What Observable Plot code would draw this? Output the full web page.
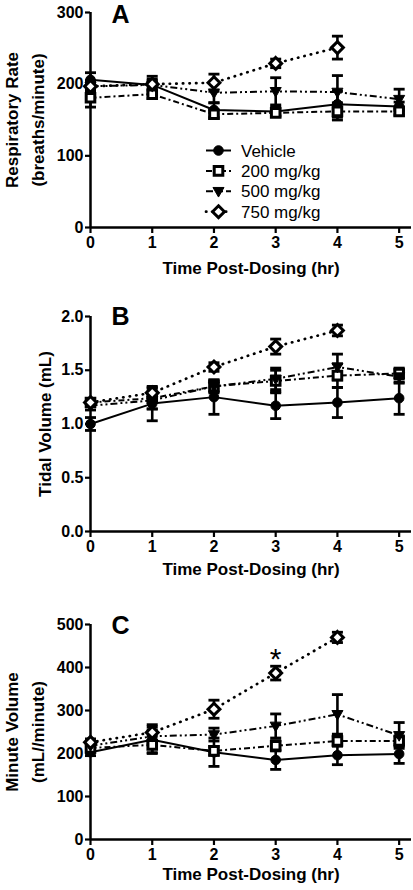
<!DOCTYPE html>
<html><head><meta charset="utf-8">
<script src="https://cdn.jsdelivr.net/npm/d3@7"></script>
<script src="https://cdn.jsdelivr.net/npm/@observablehq/plot@0.6"></script>
<style>
html,body{margin:0;padding:0;background:#fff;}
#chart{position:relative;width:413px;height:890px;overflow:hidden;font-family:"Liberation Sans",Arial,sans-serif;}
.panel{position:absolute;left:0;width:413px;}
.panel svg g[aria-label="x-axis tick"], .panel svg g[aria-label="y-axis tick"]{stroke-width:2.2px;}
</style></head><body><div id="chart"></div>
<script>
// ---------- data ----------
const times = [0, 1, 2, 3, 4, 5];
const groups = ["Vehicle", "200 mg/kg", "500 mg/kg", "750 mg/kg"];

// Panel A: Respiratory Rate (breaths/minute)
const rrVehicle = [206, 199, 164, 162, 172, 169];
const rrVehicleSem = [10, 8, 10, 6, 18, 6];
const rr200 = [181, 186, 158, 160, 162, 162];
const rr200Sem = [13, 6, 6, 5, 12, 5];
const rr500 = [197, 199, 188, 190, 189, 179];
const rr500Sem = [8, 12, 14, 19, 23, 14];
const rr750 = [197, 200, 202, 229, 251, null];
const rr750Sem = [5, 5, 12, 6, 16, null];

// Panel B: Tidal Volume (mL)
const tvVehicle = [1.00, 1.19, 1.25, 1.17, 1.20, 1.24];
const tvVehicleSem = [0.06, 0.16, 0.16, 0.12, 0.14, 0.15];
const tv200 = [1.20, 1.24, 1.35, 1.40, 1.45, 1.47];
const tv200Sem = [0.03, 0.10, 0.06, 0.10, 0.11, 0.05];
const tv500 = [1.17, 1.22, 1.35, 1.42, 1.53, 1.44];
const tv500Sem = [0.04, 0.08, 0.05, 0.10, 0.12, 0.06];
const tv750 = [1.20, 1.29, 1.53, 1.72, 1.87, null];
const tv750Sem = [0.03, 0.04, 0.04, 0.07, 0.05, null];

// Panel C: Minute Volume (mL/minute)
const mvVehicle = [203, 232, 203, 185, 196, 199];
const mvVehicleSem = [8, 30, 33, 22, 22, 22];
const mv200 = [213, 220, 206, 218, 229, 229];
const mv200Sem = [10, 20, 10, 12, 12, 12];
const mv500 = [218, 240, 244, 264, 291, 242];
const mv500Sem = [8, 15, 15, 28, 46, 30];
const mv750 = [226, 249, 303, 387, 470, null];
const mv750Sem = [8, 18, 21, 16, 12, null];
const mvStars = [{t: 3, group: 3, label: "*"}];

// ticks
const xTicks = [0, 1, 2, 3, 4, 5];
const rrTicks = [0, 100, 200, 300];
const tvTicks = [0, 0.5, 1.0, 1.5, 2.0];
const mvTicks = [0, 100, 200, 300, 400, 500];

// ---------- symbols ----------
const circleSym = {draw(c, s) { const r = Math.sqrt(s / Math.PI); c.moveTo(r, 0); c.arc(0, 0, r, 0, 2 * Math.PI); c.closePath(); }};
const squareSym = {draw(c, s) { const r = Math.sqrt(s / Math.PI); c.moveTo(-r, -r); c.lineTo(r, -r); c.lineTo(r, r); c.lineTo(-r, r); c.closePath(); }};
const triSym = {draw(c, s) { const r = Math.sqrt(s / Math.PI); c.moveTo(-r * 1.15, -r * 0.8); c.lineTo(r * 1.15, -r * 0.8); c.lineTo(0, r * 1.2); c.closePath(); }};
const diamondSym = {draw(c, s) { const r = Math.sqrt(s / Math.PI) * 1.35; c.moveTo(0, -r); c.lineTo(r, 0); c.lineTo(0, r); c.lineTo(-r, 0); c.closePath(); }};
const capSym = {draw(c, s) { const r = Math.sqrt(s / Math.PI); c.moveTo(-r, 0); c.lineTo(r, 0); }};

const styles = [
  {dash: null, cap: "butt", sym: circleSym, r: 4.8, fill: "black", sw: 1},
  {dash: "6,3,2,3", cap: "butt", sym: squareSym, r: 4.3, fill: "white", sw: 3},
  {dash: "7,3,2,3,2,3", cap: "butt", sym: triSym, r: 4.8, fill: "black", sw: 1},
  {dash: "0.4,6.2", cap: "round", sym: diamondSym, r: 4.4, fill: "white", sw: 3}
];

const FONT = "Liberation Sans, Arial, sans-serif";

function rowsOf(mean, sem) {
  return times.map((t, j) => ({t, v: mean[j], e: sem[j]})).filter(d => d.v != null);
}

function panel(cfg) {
  const series = cfg.series.map(([m, s]) => rowsOf(m, s));
  const marks = [
    Plot.ruleX([0], {strokeWidth: 2.5}),
    Plot.ruleY([0], {strokeWidth: 2.5})
  ];
  series.forEach((rows, i) => {
    marks.push(Plot.line(rows, {x: "t", y: "v", stroke: "black", strokeWidth: i === 3 ? 2.7 : 2, strokeDasharray: styles[i].dash, strokeLinecap: styles[i].cap}));
  });
  series.forEach((rows) => {
    marks.push(Plot.ruleX(rows, {x: "t", y1: d => d.v - d.e, y2: d => d.v + d.e, stroke: "black", strokeWidth: 2.6}));
    marks.push(Plot.dot(rows, {x: "t", y: d => d.v + d.e, symbol: capSym, r: 5.5, stroke: "black", fill: "none", strokeWidth: 2.8}));
    marks.push(Plot.dot(rows, {x: "t", y: d => d.v - d.e, symbol: capSym, r: 5.5, stroke: "black", fill: "none", strokeWidth: 2.8}));
  });
  series.forEach((rows, i) => {
    const st = styles[i];
    marks.push(Plot.dot(rows, {x: "t", y: "v", symbol: st.sym, r: st.r, fill: st.fill, stroke: "black", strokeWidth: st.sw}));
  });
  if (cfg.stars) {
    marks.push(Plot.text(cfg.stars, {
      x: "t",
      y: d => { const s = cfg.series[d.group]; const j = times.indexOf(d.t); return s[0][j] + s[1][j]; },
      text: "label", dy: -7, fontSize: 30, fontWeight: "normal", lineAnchor: "middle"
    }));
  }
  marks.push(Plot.text([cfg.letter], {frameAnchor: "top-left", dx: 21, dy: cfg.letterDy, fontSize: 25, fontWeight: "bold", textAnchor: "start", lineAnchor: "top"}));
  marks.push(Plot.text([cfg.ylabel], {frameAnchor: "left", rotate: -90, dx: cfg.ylabelDx, fontSize: 17, fontWeight: "bold", textAnchor: "middle", lineAnchor: "middle", lineHeight: 1.5}));
  marks.push(Plot.text(["Time Post-Dosing (hr)"], {frameAnchor: "bottom", dy: cfg.xlabelDy, fontSize: 17, fontWeight: "bold", textAnchor: "middle", lineAnchor: "middle"}));

  const svg = Plot.plot({
    width: 413,
    height: cfg.marginTop + 215 + cfg.marginBottom,
    marginLeft: 90, marginRight: 2, marginTop: cfg.marginTop, marginBottom: cfg.marginBottom,
    style: {fontFamily: FONT, fontSize: "16px", fontWeight: "bold", color: "black", background: "transparent", overflow: "visible"},
    x: {domain: [0, 5.2], ticks: xTicks, tickFormat: d3.format("d"), tickSize: 6, tickPadding: 3, label: null},
    y: {domain: cfg.yDomain, ticks: cfg.yTicks, tickFormat: cfg.yFormat, tickSize: 5, tickPadding: 2, label: null},
    marks
  });
  const div = document.createElement("div");
  div.className = "panel";
  div.style.top = cfg.top + "px";
  div.appendChild(svg);
  document.getElementById("chart").appendChild(div);
  return div;
}

panel({
  top: 0, marginTop: 12, marginBottom: 73, letter: "A", letterDy: -7,
  ylabel: "Respiratory Rate\n(breaths/minute)", ylabelDx: -67.5, xlabelDy: 41,
  yDomain: [0, 300], yTicks: rrTicks, yFormat: d3.format("d"),
  series: [[rrVehicle, rrVehicleSem], [rr200, rr200Sem], [rr500, rr500Sem], [rr750, rr750Sem]]
});
panel({
  top: 304, marginTop: 12, marginBottom: 73, letter: "B", letterDy: -9,
  ylabel: "Tidal Volume (mL)", ylabelDx: -48, xlabelDy: 38,
  yDomain: [0, 2], yTicks: tvTicks, yFormat: d3.format(".1f"),
  series: [[tvVehicle, tvVehicleSem], [tv200, tv200Sem], [tv500, tv500Sem], [tv750, tv750Sem]]
});
panel({
  top: 611.5, marginTop: 12, marginBottom: 60, letter: "C", letterDy: -8.5,
  ylabel: "Minute Volume\n(mL//minute)", ylabelDx: -67.5, xlabelDy: 35,
  yDomain: [0, 500], yTicks: mvTicks, yFormat: d3.format("d"),
  series: [[mvVehicle, mvVehicleSem], [mv200, mv200Sem], [mv500, mv500Sem], [mv750, mv750Sem]],
  stars: mvStars
});

// ---------- legend (inside panel A) ----------
const leg = d3.select("#chart").append("svg")
  .attr("width", 413).attr("height", 300)
  .style("position", "absolute").style("left", "0px").style("top", "0px");
groups.forEach((g, i) => {
  const cy = 150.5 + i * 20.4;
  const st = styles[i];
  const row = leg.append("g");
  row.append("line").attr("x1", 206).attr("x2", 231).attr("y1", cy).attr("y2", cy)
    .attr("stroke", "black").attr("stroke-width", i === 3 ? 2.7 : 2)
    .attr("stroke-dasharray", st.dash).attr("stroke-linecap", st.cap);
  row.append("path").attr("transform", `translate(218.5,${cy})`)
    .attr("d", d3.symbol().type(st.sym).size(Math.PI * st.r * st.r)())
    .attr("fill", st.fill).attr("stroke", "black").attr("stroke-width", st.sw);
  row.append("text").attr("x", 241).attr("y", cy + 6)
    .attr("font-family", FONT).attr("font-size", 17).attr("fill", "black").text(g);
});
</script></body></html>
